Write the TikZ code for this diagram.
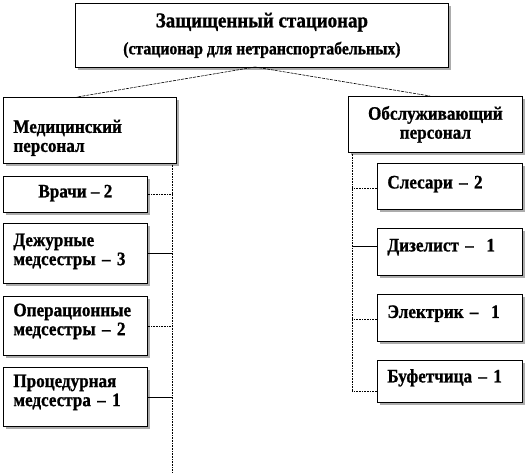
\documentclass[tikz,border=0pt]{standalone}
\usepackage{fontspec}
\setmainfont{Liberation Serif}[FakeStretch=0.9, FakeBold=1]
\usetikzlibrary{shadows}

\begin{document}
\begin{tikzpicture}[x=1pt, y=-1pt,
  every node/.style={font=\bfseries\fontsize{19}{19}\selectfont},
  staffbox/.style={draw, line width=.8pt, fill=white, anchor=north west, inner sep=0pt,
    drop shadow={shadow xshift=2.5pt, shadow yshift=-2.5pt, fill=gray!65, opacity=1}},
  leftbox/.style={staffbox, text width=124pt, align=left},
  rightbox/.style={staffbox, minimum width=145pt, text width=125pt, align=left, text height=13pt},
  link/.style={line width=.6pt},
  dotlink/.style={line width=.6pt, densely dotted}]
\useasboundingbox (0,0) rectangle (526,472);
% head
\node[staffbox, minimum width=373pt, minimum height=64pt, align=center] (head) at (75,3)
  {{\fontsize{21}{19}\selectfont Защищенный стационар}\\[8pt]{\fontsize{17.5}{19}\selectfont(стационар для нетранспортабельных)}};
% two groups
\node[staffbox, minimum width=173pt, minimum height=66pt, text width=153pt, align=left, text height=28pt] (med) at (3,97)
  {Медицинский\\персонал};
\node[staffbox, minimum width=174pt, minimum height=56pt, align=center] (serv) at (348,96)
  {Обслуживающий\\персонал};
% medical staff
\node[staffbox, minimum width=144pt, minimum height=36pt, align=center, text height=13pt, text depth=7pt] (doc) at (3,176) {Врачи -- 2};
\node[leftbox, minimum width=144pt, minimum height=60pt, text depth=27pt] (duty) at (3,223) {Дежурные\\медсестры -- 3};
\node[leftbox, minimum width=144pt, minimum height=59pt, text depth=32pt] (oper) at (3,296) {Операционные\\медсестры -- 2};
\node[leftbox, minimum width=144pt, minimum height=59pt, text depth=32pt] (proc) at (3,367) {Процедурная\\медсестра -- 1};
% service staff
\node[rightbox, minimum height=46pt, text depth=9pt] (lock) at (377,163) {Слесари -- 2};
\node[rightbox, minimum height=47pt, text depth=14pt] (dies) at (377,228) {Дизелист --~~1};
\node[rightbox, minimum height=47pt, text depth=13pt] (elec) at (377,294) {Электрик --~~1};
\node[rightbox, minimum height=42pt, text depth=11pt] (buff) at (377,360) {Буфетчица -- 1};
% connectors
\coordinate (split) at (255,67);
\coordinate (medtop) at (77,97);
\coordinate (servtop) at (430,96);
\coordinate (medspine) at (172,163);
\coordinate (medend) at (172,472);
\coordinate (servspine) at (352,152);
\coordinate (servend) at (352,391);
\draw[link, dashed, dash pattern=on 3pt off 1pt] (split) -- (medtop);
\draw[link, dashed, dash pattern=on 3pt off 1pt] (split) -- (servtop);
\draw[dotlink] (medspine) -- (medend);
\draw[dotlink] (servspine) -- (servend);
\draw[dotlink] (doc.east) -- (doc.east -| medspine);
\draw[link] (duty.east) -- (duty.east -| medspine);
\draw[dotlink] (oper.east) -- (oper.east -| medspine);
\draw[link] (proc.east) -- (proc.east -| medspine);
\draw[dotlink] (lock.west |- 0,188) -- (servspine |- 0,188);
\draw[link] (dies.west |- 0,246) -- (servspine |- 0,246);
\draw[dotlink] (elec.west |- 0,319) -- (servspine |- 0,319);
\draw[dotlink] (buff.west |- 0,391) -- (servend);
\end{tikzpicture}
\end{document}
